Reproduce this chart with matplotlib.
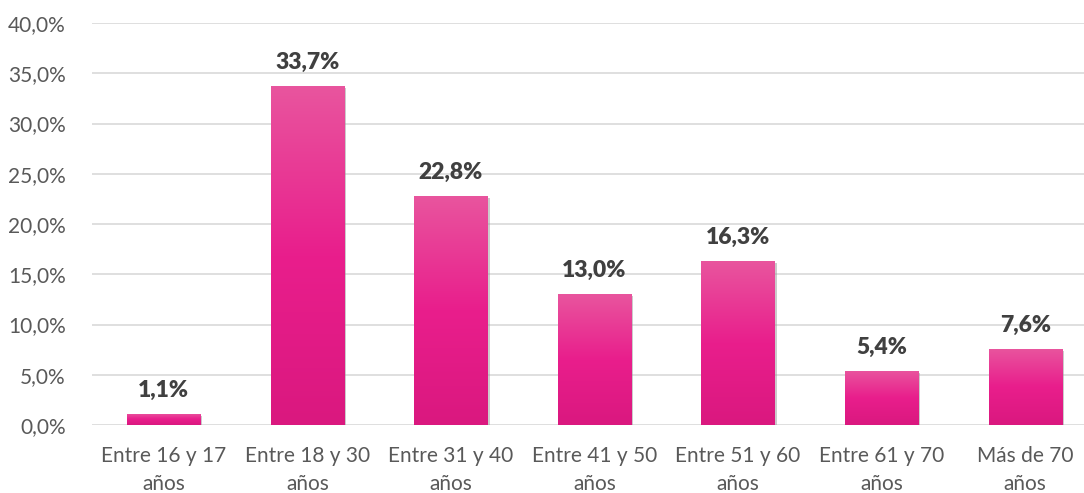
import numpy as np
import matplotlib.pyplot as plt
import matplotlib.patheffects as pe
from matplotlib.colors import LinearSegmentedColormap

categorias = ['Entre 16 y 17\naños', 'Entre 18 y 30\naños', 'Entre 31 y 40\naños',
              'Entre 41 y 50\naños', 'Entre 51 y 60\naños', 'Entre 61 y 70\naños',
              'Más de 70\naños']
porcentajes = [1.1, 33.7, 22.8, 13.0, 16.3, 5.4, 7.6]
etiquetas = ['1,1%', '33,7%', '22,8%', '13,0%', '16,3%', '5,4%', '7,6%']

plt.rcParams['font.family'] = ['Lato', 'DejaVu Sans']

fig = plt.figure(figsize=(10.84, 4.93), dpi=100)
ax = fig.add_axes([92 / 1084, 68 / 493, 1005 / 1084, 402 / 493])

x = np.arange(len(categorias))
barras = ax.bar(x, porcentajes, width=0.51, color='#E91E8C', zorder=3,
                path_effects=[pe.SimplePatchShadow(offset=(1.5, -1.5), shadow_rgbFace='#999999', alpha=0.5),
                              pe.Normal()])

# degradado vertical dentro de cada barra
grad = np.linspace(0, 1, 256).reshape(-1, 1)
cmap = LinearSegmentedColormap.from_list('rosa', ['#DA187F', '#E91E8C', '#E8559E'])
for b in barras:
    x0, y0 = b.get_x(), b.get_y()
    w, h = b.get_width(), b.get_height()
    im = ax.imshow(grad, extent=[x0, x0 + w, y0, y0 + h], origin='lower', aspect='auto',
                   cmap=cmap, zorder=4)
    im.set_clip_path(b)

for xi, v, t in zip(x, porcentajes, etiquetas):
    ax.text(xi, v + 1.3, t, ha='center', va='bottom', fontsize=16.5, fontweight='heavy',
            color='#404040', zorder=5)

ax.set_xlim(-0.5, len(categorias) - 0.5)
ax.set_ylim(0, 40)
ax.set_yticks(np.arange(0, 41, 5))
ax.set_yticklabels([f'{v:.1f}%'.replace('.', ',') for v in np.arange(0, 41, 5)])
ax.set_xticks(x)
ax.set_xticklabels(categorias, linespacing=1.5)
ax.tick_params(axis='both', length=0, labelsize=15, labelcolor='#595959')
ax.tick_params(axis='y', pad=19)
ax.tick_params(axis='x', pad=15)
ax.grid(axis='y', color='#D9D9D9', linewidth=1.2, zorder=0)
for s in ax.spines.values():
    s.set_visible(False)

fig.savefig('out.png', dpi=100)
